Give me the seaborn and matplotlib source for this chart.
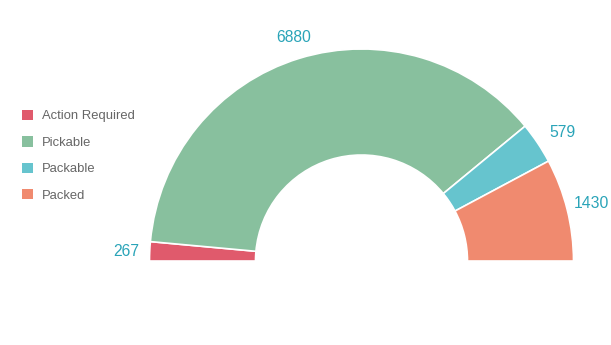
import numpy as np
import matplotlib
matplotlib.use("Agg")
import matplotlib.pyplot as plt
import matplotlib.patches as mpatches
import seaborn as sns

categories = ["Action Required", "Pickable", "Packable", "Packed"]
values = [267, 6880, 579, 1430]
colors = ["#E05A6C", "#88C09E", "#66C4CE", "#F08A6F"]
label_color = "#2AA4B8"

sns.set_theme(style="white")
plt.rcParams['font.family'] = ['Liberation Sans', 'DejaVu Sans']

W, H = 611, 345
fig = plt.figure(figsize=(W / 100, H / 100), dpi=100)
cx, cy, R = 361.5, 345 - 261, 212
ax = fig.add_axes([(cx - R) / W, (cy - R) / H, 2 * R / W, 2 * R / H])

total = sum(values)
wedges, _ = ax.pie(values + [total], colors=colors + ["none"], startangle=180,
                   counterclock=False, radius=1,
                   wedgeprops=dict(width=0.5, edgecolor="white", linewidth=1.2))
wedges[-1].set_edgecolor("none")
ax.set_xlim(-1, 1)
ax.set_ylim(-1, 1)
ax.set_aspect("auto")
ax.axis("off")

# labels
texts = []
cum = 0
for v in values:
    mid = 180 - (cum + v / 2) / total * 180
    cum += v
    a = np.deg2rad(mid)
    c = np.cos(a)
    if abs(c) < 0.5:
        r, ha, dy = 231 / R, "center", 3 / R
    elif c > 0:
        r, ha, dy = 226 / R, "left", 3 / R
    else:
        r, ha, dy = 222.5 / R, "right", -1 / R
    t = ax.text(r * np.cos(a), r * np.sin(a) + dy, f"{v}", ha=ha, va="center",
                fontsize=11.3, color=label_color, clip_on=False)
    texts.append(t)

# keep labels inside the canvas
fig.canvas.draw()
renderer = fig.canvas.get_renderer()
for t in texts:
    bb = t.get_window_extent(renderer)
    if bb.x1 > W - 2:
        shift = (bb.x1 - (W - 2)) / (2 * R) * 2
        x, y = t.get_position()
        t.set_position((x - shift, y))

handles = [mpatches.Patch(facecolor=c, edgecolor="none") for c in colors]
fig.legend(handles, categories, loc="upper left", bbox_to_anchor=(10 / W, 1 - 98 / H),
           frameon=False, fontsize=9.4, handlelength=0.85, handleheight=0.85,
           handletextpad=0.7, labelspacing=1.05, labelcolor="#666666")

fig.savefig("out.png", dpi=100)
